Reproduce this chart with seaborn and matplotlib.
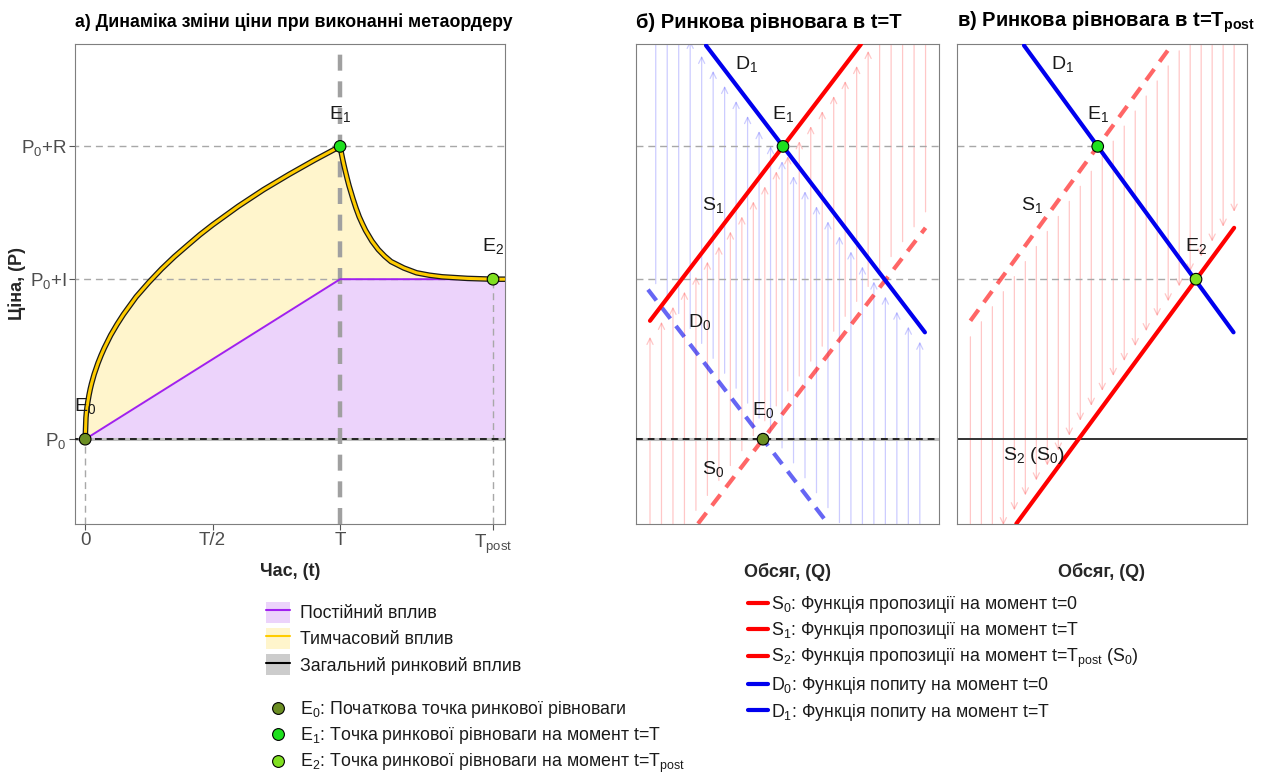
import numpy as np
import pandas as pd
import matplotlib
matplotlib.use("Agg")
import matplotlib.pyplot as plt
import seaborn as sns
from matplotlib.patches import FancyArrowPatch, Patch
from matplotlib.lines import Line2D

# ---------------- data ----------------
# price levels (P0 taken as zero)
P0, P_I, P_R = 0.0, 1.0, 1.83
price_ticks = [P0, P_I, P_R]
price_labels = [r"P$_{\mathregular{0}}$", r"P$_{\mathregular{0}}$+I", r"P$_{\mathregular{0}}$+R"]

# time marks
T, T_POST = 1.0, 1.6
time_ticks = [0.0, 0.5, T, T_POST]
time_labels = ["0", "T/2", "T", r"$\mathregular{T_{post}}$"]

# permanent impact (linear build-up, then flat)
perm_t = [0.0, 1.0, 1.7]
perm_p = [0.0, 1.0, 1.0]

# total price path: concave rise during execution, decay afterwards
total_t = [0.0, 0.003, 0.005, 0.0075, 0.01, 0.015, 0.02, 0.025, 0.035, 0.05, 0.0625,
           0.075, 0.1, 0.125, 0.15, 0.175, 0.2, 0.25, 0.3, 0.35, 0.4, 0.45, 0.5, 0.6,
           0.7, 0.8, 0.9, 1.0, 1.005, 1.01, 1.015, 1.02, 1.0275, 1.035, 1.05, 1.0625,
           1.075, 1.0875, 1.1, 1.125, 1.15, 1.175, 1.2, 1.25, 1.3, 1.35, 1.4, 1.5,
           1.6, 1.7]
total_p = [0.0, 0.134, 0.17, 0.2025, 0.23, 0.276, 0.315, 0.348, 0.405, 0.475, 0.525,
           0.57, 0.65, 0.718, 0.78, 0.835, 0.89, 0.981, 1.065, 1.141, 1.21, 1.278, 1.34,
           1.455, 1.56, 1.655, 1.745, 1.83, 1.789, 1.75, 1.714, 1.68, 1.631, 1.585,
           1.505, 1.444, 1.39, 1.346, 1.305, 1.238, 1.185, 1.144, 1.11, 1.07, 1.04,
           1.025, 1.015, 1.005, 1.0, 1.0]

# equilibrium points on the time axis
eq_names = ["E0", "E1", "E2"]
eq_t = [0.0, T, T_POST]
eq_p = [P0, P_R, P_I]

# supply and demand lines (quantity, price end points)
s0_q, s0_p = [0.3875, 1.81], [-0.528, 1.321]
s1_q, s1_p = [0.0875, 1.406], [0.74, 2.468]
d0_q, d0_p = [0.075, 1.2], [0.935, -0.528]
d1_q, d1_p = [0.4375, 1.806], [2.461, 0.668]

# equilibria in the Q-P plane
e0_qp = (0.794, P0)
e1_qp = (0.919, P_R)
e2_qp = (1.561, P_I)

# grid of shift arrows along the quantity axis
arrow_q0, arrow_step, arrow_n = 0.0875, 0.07177, 25

# ---------------- style ----------------
sns.set_theme(style="white")
BASE = ["Liberation Sans", "DejaVu Sans"]
NARROW = ["Liberation Sans Narrow", "Liberation Sans", "DejaVu Sans"]
plt.rcParams["font.family"] = BASE
plt.rcParams["axes.edgecolor"] = "#7F7F7F"
plt.rcParams["axes.linewidth"] = 0.8

RED, BLUE = "#FF0000", "#0000EE"
PURPLE, GOLD = "#A020F0", "#FFCC00"
PURPLE_FILL, GOLD_FILL, GREY_FILL = "#ECD3FB", "#FFF5CC", "#CCCCCC"
E_COLORS = {"E0": "#6B8E23", "E1": "#1EE01E", "E2": "#80E020"}
GRID_GREY = "#A8A8A8"
TXT = "#1A1A1A"
TICK_GREY = "#4D4D4D"

W, H = 1268, 773
fig = plt.figure(figsize=(W / 100, H / 100), dpi=100)
axA = fig.add_axes([75 / W, 1 - 524 / H, 430 / W, 480 / H])
axB = fig.add_axes([636 / W, 1 - 524 / H, 303 / W, 480 / H])
axC = fig.add_axes([957 / W, 1 - 524 / H, 290 / W, 480 / H])

YLIM = (-0.53, 2.47)
QLIM = (0.0, 1.894)


def value_on(line, q):
    (qa, qb), (pa, pb) = line
    return pa + (pb - pa) / (qb - qa) * (q - qa)


def hline(ax, y, x0, x1, **kw):
    ax.plot([x0, x1], [y, y], **kw)


dash_grey = dict(color=GRID_GREY, lw=1.0, ls=(0, (5, 3.5)), zorder=2)

# ---------------- panel a ----------------
ax = axA
t_arr = np.array(total_t)
perm_on_total = np.interp(t_arr, perm_t, perm_p)
ax.fill_between(t_arr, P0, perm_on_total, color=PURPLE_FILL, lw=0, zorder=1)
ax.fill_between(t_arr, perm_on_total, total_p, color=GOLD_FILL, lw=0, zorder=1)

for y in (P_R, P_I):
    hline(ax, y, -0.1, 1.8, **dash_grey)
hline(ax, P0, -0.1, 1.8, color="#BDBDBD", lw=2.2, zorder=2)
hline(ax, P0, -0.1, 1.8, color="#222222", lw=1.4, ls=(0, (3.5, 2.5)), zorder=3)
ax.vlines([0.0, T_POST], YLIM[0], [P0, P_I], color=GRID_GREY, lw=1.0,
          linestyles=[(0, (5, 3.5))], zorder=2)
ax.axvline(T, color="#A0A0A0", lw=3.2, ls=(0, (3.6, 2.4)), zorder=3)

perm_df = pd.DataFrame({"t": perm_t, "p": perm_p})
total_df = pd.DataFrame({"t": total_t, "p": total_p})
sns.lineplot(data=perm_df, x="t", y="p", ax=ax, color=PURPLE, lw=1.4,
             estimator=None, sort=False, zorder=4)
sns.lineplot(data=total_df, x="t", y="p", ax=ax, color="#1A1A1A", lw=4.0,
             estimator=None, sort=False, zorder=5, solid_joinstyle="round")
sns.lineplot(data=total_df, x="t", y="p", ax=ax, color=GOLD, lw=2.2,
             estimator=None, sort=False, zorder=6, solid_joinstyle="round")

eq_df = pd.DataFrame({"name": eq_names, "t": eq_t, "p": eq_p})
sns.scatterplot(data=eq_df, x="t", y="p", hue="name", palette=E_COLORS, ax=ax,
                s=70, edgecolor="black", linewidth=0.8, legend=False, zorder=7)
for name, tx, py in zip(eq_names, eq_t, eq_p):
    ax.text(tx, py + 0.2, name[0] + r"$_{\mathregular{" + name[1] + "}}$",
            ha="center", va="center", fontsize=14, color=TXT, family=NARROW, zorder=8)

ax.set_xlim(-0.04, 1.647)
ax.set_ylim(*YLIM)
ax.set_xticks(time_ticks, labels=time_labels, family=NARROW)
ax.set_yticks(price_ticks, labels=price_labels, family=NARROW)
ax.tick_params(axis="both", length=4, width=0.8, color="#555555",
               labelcolor=TICK_GREY, labelsize=13.5, pad=2, bottom=True, left=True)
ax.set_xlabel("")
ax.set_ylabel("")
for s in ax.spines.values():
    s.set_color("#7F7F7F")

# ---------------- panel b ----------------
ax = axB
arrow_q = arrow_q0 + arrow_step * np.arange(arrow_n)
arrow_q_blue = arrow_q[:-1] + arrow_step / 2
S0 = (s0_q, s0_p)
S1 = (s1_q, s1_p)
D0 = (d0_q, d0_p)
D1 = (d1_q, d1_p)


def shift_arrows(ax, qs, src, dst, color, gap=0.1):
    for q in qs:
        y0, y1 = value_on(src, q), value_on(dst, q)
        d = np.sign(y1 - y0)
        ax.add_patch(FancyArrowPatch((q, y0 + d * gap), (q, y1 - d * gap),
                                     arrowstyle="->,head_length=0.45,head_width=0.22",
                                     mutation_scale=10, color=color, lw=0.9,
                                     shrinkA=0, shrinkB=0, zorder=1))


shift_arrows(ax, arrow_q, S0, S1, (1, 0, 0, 0.22))
shift_arrows(ax, arrow_q_blue, D0, D1, (0, 0, 1, 0.2))

for y in (P_R, P_I):
    hline(ax, y, QLIM[0], QLIM[1], **dash_grey)
hline(ax, P0, QLIM[0], QLIM[1], color="#BDBDBD", lw=2.2, zorder=2)
hline(ax, P0, QLIM[0], QLIM[1], color="#222222", lw=1.4, ls=(0, (3.5, 2.5)), zorder=3)

dash_sd = (0, (3.3, 2.2))
sns.lineplot(x=s0_q, y=s0_p, ax=ax, color=RED, alpha=0.6, lw=3, ls=dash_sd, zorder=4)
sns.lineplot(x=d0_q, y=d0_p, ax=ax, color=BLUE, alpha=0.6, lw=3, ls=dash_sd, zorder=4)
sns.lineplot(x=s1_q, y=s1_p, ax=ax, color=RED, lw=3, zorder=5)
sns.lineplot(x=d1_q, y=d1_p, ax=ax, color=BLUE, lw=3, zorder=5)

bpts = pd.DataFrame({"name": ["E0", "E1"], "q": [e0_qp[0], e1_qp[0]],
                     "p": [e0_qp[1], e1_qp[1]]})
sns.scatterplot(data=bpts, x="q", y="p", hue="name", palette=E_COLORS, ax=ax,
                s=70, edgecolor="black", linewidth=0.8, legend=False, zorder=7)

lab_kw = dict(ha="center", va="center", fontsize=14, color=TXT, zorder=8)
ax.text(0.69, 2.34, r"D$_{\mathregular{1}}$", **lab_kw)
ax.text(0.919, 2.03, r"E$_{\mathregular{1}}$", **lab_kw)
ax.text(0.48, 1.46, r"S$_{\mathregular{1}}$", **lab_kw)
ax.text(0.40, 0.725, r"D$_{\mathregular{0}}$", **lab_kw)
ax.text(0.794, 0.18, r"E$_{\mathregular{0}}$", **lab_kw)
ax.text(0.48, -0.19, r"S$_{\mathregular{0}}$", **lab_kw)

ax.set_xlim(*QLIM)
ax.set_ylim(*YLIM)
ax.set_xticks([])
ax.set_yticks([])
ax.set_xlabel("")
ax.set_ylabel("")

# ---------------- panel c ----------------
ax = axC
shift_arrows(ax, arrow_q, S1, S0, (1, 0, 0, 0.22))
hline(ax, P_R, QLIM[0], e1_qp[0], **dash_grey)
hline(ax, P_I, QLIM[0], e2_qp[0], **dash_grey)
hline(ax, P0, QLIM[0], QLIM[1], color="#333333", lw=1.4, zorder=2)

sns.lineplot(x=s1_q, y=s1_p, ax=ax, color=RED, alpha=0.6, lw=3, ls=dash_sd, zorder=4)
sns.lineplot(x=s0_q, y=s0_p, ax=ax, color=RED, lw=3, zorder=5)
sns.lineplot(x=d1_q, y=d1_p, ax=ax, color=BLUE, lw=3, zorder=5)

cpts = pd.DataFrame({"name": ["E1", "E2"], "q": [e1_qp[0], e2_qp[0]],
                     "p": [e1_qp[1], e2_qp[1]]})
sns.scatterplot(data=cpts, x="q", y="p", hue="name", palette=E_COLORS, ax=ax,
                s=70, edgecolor="black", linewidth=0.8, legend=False, zorder=7)

ax.text(0.69, 2.34, r"D$_{\mathregular{1}}$", **lab_kw)
ax.text(0.919, 2.03, r"E$_{\mathregular{1}}$", **lab_kw)
ax.text(0.49, 1.46, r"S$_{\mathregular{1}}$", **lab_kw)
ax.text(1.561, 1.2, r"E$_{\mathregular{2}}$", **lab_kw)
ax.text(0.50, -0.1, r"S$_{\mathregular{2}}$ (S$_{\mathregular{0}}$)", **lab_kw)

ax.set_xlim(*QLIM)
ax.set_ylim(*YLIM)
ax.set_xticks([])
ax.set_yticks([])
ax.set_xlabel("")
ax.set_ylabel("")

# ---------------- titles and axis names ----------------
fig.text(75 / W, 1 - 22 / H, "а) Динаміка зміни ціни при виконанні метаордеру",
         ha="left", va="center", fontsize=12.8, fontweight="bold", family=NARROW, color="black")
fig.text(636 / W, 1 - 22 / H, "б) Ринкова рівновага в t=T",
         ha="left", va="center", fontsize=14.5, fontweight="bold", color="black")
fig.text(957 / W, 1 - 22 / H, r"в) Ринкова рівновага в t=$\mathregular{T_{post}}$",
         ha="left", va="center", fontsize=14.5, fontweight="bold", color="black")

fig.text(290 / W, 1 - 571 / H, "Час, (t)", ha="center", va="center",
         fontsize=13, fontweight="bold", family=NARROW)
fig.text(17 / W, 1 - 284 / H, "Ціна, (P)", ha="center", va="center", rotation=90,
         fontsize=13, fontweight="bold", family=NARROW)
fig.text(787 / W, 1 - 572 / H, "Обсяг, (Q)", ha="center", va="center",
         fontsize=13, fontweight="bold")
fig.text(1102 / W, 1 - 572 / H, "Обсяг, (Q)", ha="center", va="center",
         fontsize=13, fontweight="bold")

# ---------------- legends ----------------
LEG_FS = 12.8
impact_handles = [
    (Patch(facecolor=PURPLE_FILL, edgecolor="none"), Line2D([], [], color=PURPLE, lw=1.5)),
    (Patch(facecolor=GOLD_FILL, edgecolor="none"), Line2D([], [], color=GOLD, lw=1.5)),
    (Patch(facecolor=GREY_FILL, edgecolor="none"), Line2D([], [], color="black", lw=1.5)),
]
impact_labels = ["Постійний вплив", "Тимчасовий вплив", "Загальний ринковий вплив"]
leg1 = fig.legend(impact_handles, impact_labels, loc="upper left",
                  bbox_to_anchor=(266 / W, 1 - 602 / H), frameon=False, fontsize=LEG_FS,
                  handlelength=1.35, handleheight=1.4, handletextpad=0.55,
                  labelspacing=0.32, borderpad=0, borderaxespad=0, labelcolor=TXT)

point_handles = [Line2D([], [], ls="", marker="o", markersize=8.5, markerfacecolor=E_COLORS[n],
                        markeredgecolor="black", markeredgewidth=0.8) for n in eq_names]
point_labels = [r"E$_{\mathregular{0}}$: Початкова точка ринкової рівноваги",
                r"E$_{\mathregular{1}}$: Точка ринкової рівноваги на момент t=T",
                r"E$_{\mathregular{2}}$: Точка ринкової рівноваги на момент t=$\mathregular{T_{post}}$"]
leg2 = fig.legend(point_handles, point_labels, loc="upper left",
                  bbox_to_anchor=(266 / W, 1 - 699 / H), frameon=False, fontsize=LEG_FS,
                  handlelength=1.4, handletextpad=0.5, labelspacing=0.3,
                  borderpad=0, borderaxespad=0, labelcolor=TXT)

line_handles = [Line2D([], [], color=c, lw=3) for c in (RED, RED, RED, BLUE, BLUE)]
line_labels = [r"S$_{\mathregular{0}}$: Функція пропозиції на момент t=0",
               r"S$_{\mathregular{1}}$: Функція пропозиції на момент t=T",
               r"S$_{\mathregular{2}}$: Функція пропозиції на момент t=$\mathregular{T_{post}}$ (S$_{\mathregular{0}}$)",
               r"D$_{\mathregular{0}}$: Функція попиту на момент t=0",
               r"D$_{\mathregular{1}}$: Функція попиту на момент t=T"]
leg3 = fig.legend(line_handles, line_labels, loc="upper left",
                  bbox_to_anchor=(748 / W, 1 - 594 / H), frameon=False, fontsize=LEG_FS,
                  handlelength=1.15, handletextpad=0.15, labelspacing=0.3,
                  borderpad=0, borderaxespad=0, labelcolor=TXT)

fig.savefig("out.png", dpi=100)
